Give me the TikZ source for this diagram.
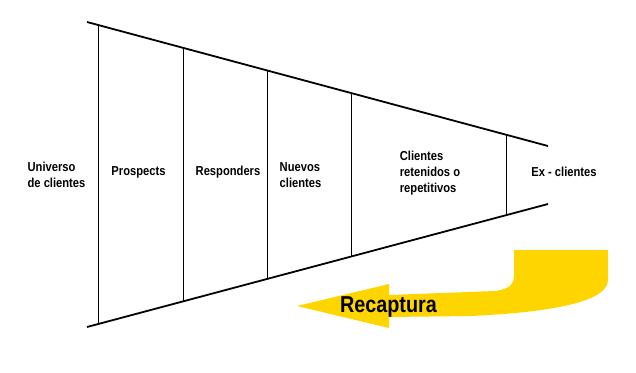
\documentclass[tikz,border=0pt]{standalone}
\usepackage{fontspec}
\setmainfont{Liberation Sans}
\usetikzlibrary{positioning, calc}
\definecolor{recapgold}{HTML}{FFD500}

\begin{document}
\begin{tikzpicture}[
    x=1pt, y=-1pt,
    every node/.style={font=\bfseries\fontsize{13}{16}\selectfont, xscale=0.86},
    stage/.style={align=left, inner sep=0pt},
    funnel/.style={line width=1.8pt, draw=black},
    divider/.style={line width=0.9pt, draw=black},
    recap/.style={fill=recapgold, draw=none}
]
    \useasboundingbox (0,0) rectangle (636,372);
    \coordinate (topleft) at (87,22);
    \coordinate (topright) at (548,146);
    \coordinate (botleft) at (87,327);
    \coordinate (botright) at (548,204);
    \draw[funnel] (topleft) -- (topright);
    \draw[funnel] (botleft) -- (botright);
    \foreach \x in {98,183,267,351,506}
        \draw[divider] ($(topleft)!{(\x-87)/461}!(topright)$) -- ($(botleft)!{(\x-87)/461}!(botright)$);

    \node[stage] (universe) at (56.5,175) {Universo\\de clientes};
    \node[stage] (prospects) at (138.5,172) {Prospects};
    \node[stage] (responders) at (228,172) {Responders};
    \node[stage] (newclients) at (300.5,175) {Nuevos\\clientes};
    \node[stage] (retained) at (430,173) {Clientes\\retenidos o\\repetitivos};
    \node[stage] (exclients) at (564,172) {Ex - clientes};

    % recapture arrow
    \fill[recap] (297,306) -- (389,284) -- (389,295) -- (495,291)
        .. controls (510,289) and (514,284) .. (514,275) -- (514,250) -- (608,250) -- (608,280)
        .. controls (608,300) and (560,312) .. (470,316) -- (389,317) -- (389,328) -- cycle;
    \node[font=\bfseries\fontsize{23}{26}\selectfont, inner sep=0pt] (recapture) at (388.5,307) {Recaptura};
\end{tikzpicture}
\end{document}
